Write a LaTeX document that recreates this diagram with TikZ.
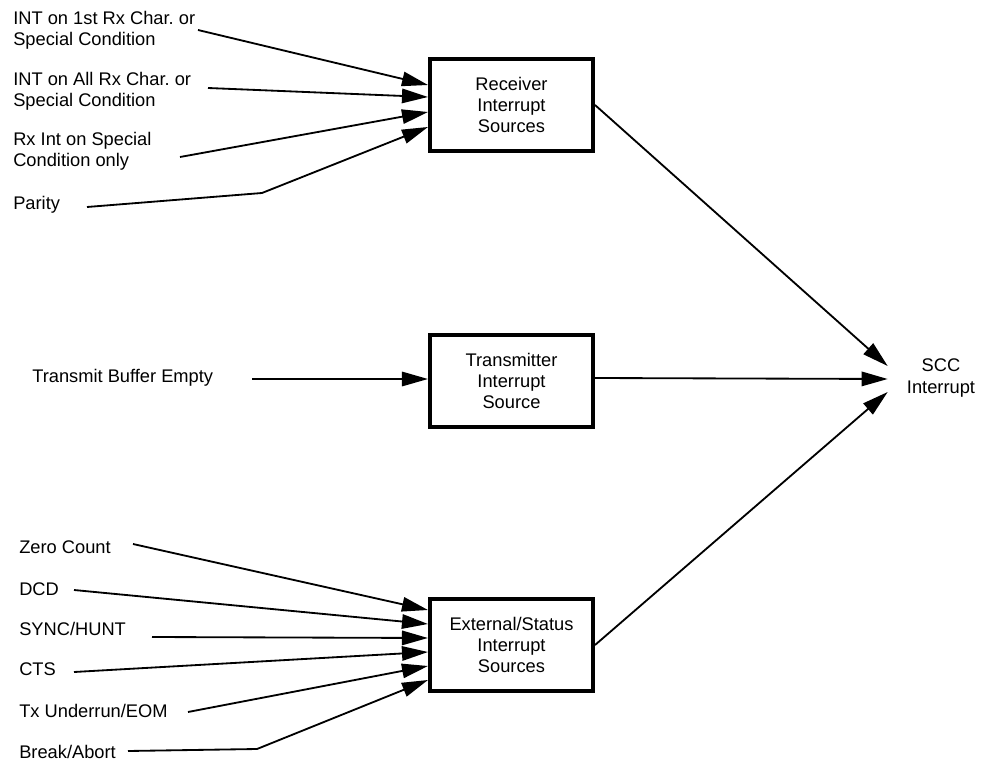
\documentclass[tikz,border=0pt]{standalone}
\usepackage{fontspec}
\setmainfont{Liberation Sans}
\usetikzlibrary{arrows.meta,calc}

\tikzset{
	srcbox/.style = {draw, line width=0.1cm, minimum width=4.075cm, minimum height=2.3cm, align=center, inner sep=0pt},
	lbl/.style = {anchor=west, align=left, inner sep=0pt},
	feed/.style = {line width=1.3pt, -{Triangle[length=0.65cm,width=0.36cm]}},
}

\begin{document}
\frenchspacing
\begin{tikzpicture}[x=0.025cm, y=-0.025cm, font=\fontsize{13}{15}\selectfont]

	\useasboundingbox (0,0) rectangle (988,762);

	% interrupt source boxes
	\node[srcbox] (rx) at (511.5,105) {Receiver\\Interrupt\\Sources};
	\node[srcbox] (tx) at (511.5,381) {Transmitter\\Interrupt\\Source};
	\node[srcbox] (ext) at (511.5,645) {External/Status\\Interrupt\\Sources};
	\node[align=center, inner sep=0pt] (scc) at (941,378) {SCC\\Interrupt};

	% receiver inputs
	\node[lbl] (int1st) at (13,30.5) {INT on 1st Rx Char. or\\Special Condition};
	\node[lbl] (intall) at (13,91.5) {INT on All Rx Char. or\\Special Condition};
	\node[lbl] (spec) at (13,151.5) {Rx Int on Special\\Condition only};
	\node[lbl] (par) at (13,205) {Parity};

	\coordinate (s1) at (198,30);
	\coordinate (s2) at (208,88);
	\coordinate (s3) at (180,157);
	\coordinate (s4) at (87,207);
	\coordinate (k4) at (262,193);
	\draw[feed] (s1) -- ($(rx.west)+(0,-20)$);
	\draw[feed] (s2) -- ($(rx.west)+(0,-8)$);
	\draw[feed] (s3) -- ($(rx.west)+(0,7)$);
	\draw[feed] (s4) -- (k4) -- ($(rx.west)+(0,22)$);

	% transmitter input
	\node[lbl] (tbe) at (32,378) {Transmit Buffer Empty};
	\coordinate (s5) at (252,379);
	\draw[feed] (s5) -- (s5 -| tx.west);

	% external/status inputs
	\node[lbl] (zc) at (19,547) {Zero Count};
	\node[lbl] (dcd) at (19,589) {DCD};
	\node[lbl] (sync) at (19,629) {SYNC/HUNT};
	\node[lbl] (cts) at (19,669) {CTS};
	\node[lbl] (txu) at (19,711) {Tx Underrun/EOM};
	\node[lbl] (brk) at (19,752) {Break/Abort};

	\coordinate (e1) at (133,544);
	\coordinate (e2) at (74,590);
	\coordinate (e3) at (152,637);
	\coordinate (e4) at (74,672);
	\coordinate (e5) at (188,712);
	\coordinate (e6) at (128,751);
	\coordinate (k6) at (257,749);
	\draw[feed] (e1) -- ($(ext.west)+(0,-35)$);
	\draw[feed] (e2) -- ($(ext.west)+(0,-21)$);
	\draw[feed] (e3) -- ($(ext.west)+(0,-7)$);
	\draw[feed] (e4) -- ($(ext.west)+(0,7)$);
	\draw[feed] (e5) -- ($(ext.west)+(0,21)$);
	\draw[feed] (e6) -- (k6) -- ($(ext.west)+(0,35)$);

	% to the SCC
	\draw[feed] (rx.east) -- ($(scc.west)+(-19,-12)$);
	\draw[feed] (tx.east |- scc.west) -- ($(scc.west)+(-19,1)$);
	\draw[feed] (ext.east) -- ($(scc.west)+(-19,14)$);

\end{tikzpicture}
\end{document}
